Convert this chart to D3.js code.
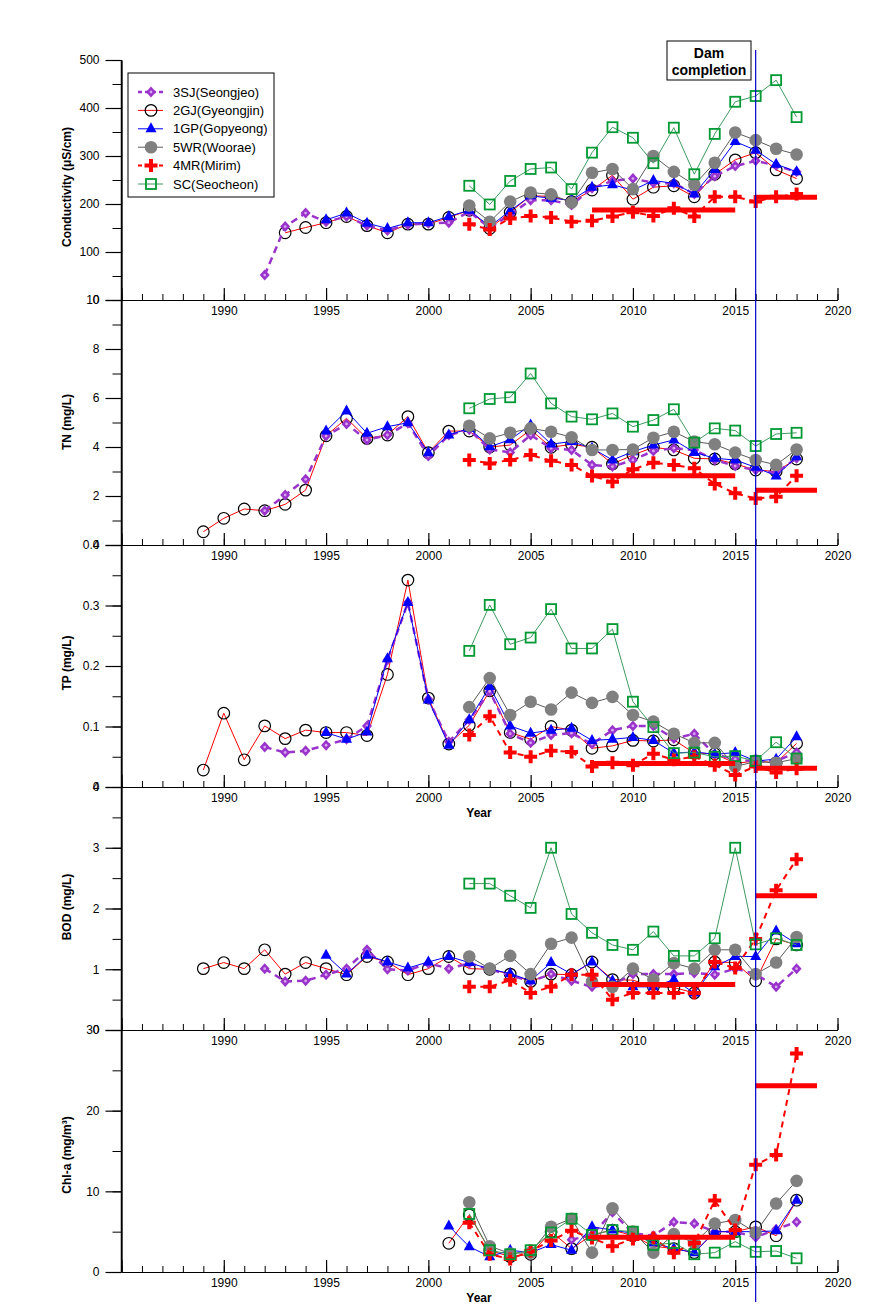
<!DOCTYPE html>
<html><head><meta charset="utf-8">
<script src="https://cdn.jsdelivr.net/npm/d3@7"></script>
<style>body{margin:0;background:#fff}svg{display:block;font-family:"Liberation Sans",Arial,sans-serif}</style>
</head><body><div id="chart"></div>
<script>
// ---------- DATA (years 1989..2018, null = no sample) ----------
const years = d3.range(1989, 2019);
const seriesNames = ["3SJ(Seongjeo)","2GJ(Gyeongjin)","1GP(Gopyeong)","5WR(Woorae)","4MR(Mirim)","SC(Seocheon)"];
const N = null;
// Conductivity (uS/cm)
const cond_3SJ = [N,N,N,52,153,181,163,174,155,145,157,160,161,184,150,178,208,208,198,233,248,253,244,243,221,258,279,290,280,267];
const cond_2GJ = [N,N,N,N,140,151,161,174,155,140,158,158,172,187,149,183,217,216,205,229,260,210,235,238,215,262,292,307,271,253];
const cond_1GP = [N,N,N,N,N,N,167,181,160,149,161,161,174,187,153,186,217,212,208,235,240,229,249,243,221,272,330,312,283,267];
const cond_5WR = [N,N,N,N,N,N,N,N,N,N,N,N,N,197,163,205,224,220,203,265,273,231,300,267,240,286,349,333,315,303];
const cond_4MR = [N,N,N,N,N,N,N,N,N,N,N,N,N,158,147,170,175,172,163,165,174,183,175,191,174,215,215,205,215,221];
const cond_SC  = [N,N,N,N,N,N,N,N,N,N,N,N,N,238,199,248,273,276,231,307,360,338,285,359,262,346,413,425,458,381];
const cond_mean = [187.5, 214];
// TN (mg/L)
const tn_3SJ = [N,N,N,1.40,2.04,2.68,4.45,4.94,4.29,4.49,4.97,3.63,4.49,4.70,3.90,3.78,4.49,3.95,3.88,3.27,3.20,3.47,3.84,3.95,3.88,3.47,3.22,3.06,2.95,3.54];
const tn_2GJ = [0.54,1.09,1.47,1.40,1.66,2.24,4.46,5.17,4.35,4.49,5.24,3.77,4.65,4.65,4.00,4.08,4.70,3.99,4.11,3.99,3.31,3.67,3.99,3.88,3.54,3.51,3.31,3.06,3.00,3.51];
const tn_1GP = [N,N,N,N,N,N,4.65,5.47,4.56,4.83,4.99,3.77,4.49,4.76,4.01,4.30,4.90,4.12,4.22,3.95,3.47,3.81,4.08,4.29,3.78,3.54,3.47,3.17,2.82,3.60];
const tn_5WR = [N,N,N,N,N,N,N,N,N,N,N,N,N,4.87,4.35,4.58,4.76,4.62,4.40,3.88,3.88,3.90,4.38,4.62,4.22,4.11,3.77,3.47,3.27,3.90];
const tn_4MR = [N,N,N,N,N,N,N,N,N,N,N,N,N,3.47,3.33,3.47,3.67,3.44,3.27,2.82,2.58,3.09,3.36,3.27,3.13,2.49,2.11,1.90,1.97,2.83];
const tn_SC  = [N,N,N,N,N,N,N,N,N,N,N,N,N,5.58,5.96,6.03,7.00,5.78,5.24,5.13,5.37,4.83,5.10,5.54,4.18,4.76,4.67,4.04,4.53,4.58];
const tn_mean = [2.83, 2.23];
// TP (mg/L)
const tp_3SJ = [N,N,N,0.066,0.057,0.060,0.069,0.079,0.101,0.210,0.305,0.145,0.075,0.111,0.158,0.088,0.073,0.086,0.089,0.071,0.094,0.101,0.101,0.080,0.088,0.054,0.046,0.042,0.043,0.057];
const tp_2GJ = [0.028,0.122,0.045,0.101,0.080,0.094,0.090,0.090,0.085,0.186,0.342,0.147,0.071,0.102,0.159,0.090,0.079,0.100,0.094,0.064,0.068,0.077,0.076,0.078,0.056,0.055,0.039,0.043,0.040,0.072];
const tp_1GP = [N,N,N,N,N,N,0.090,0.079,0.091,0.212,0.305,0.144,0.069,0.111,0.166,0.101,0.089,0.094,0.097,0.077,0.079,0.082,0.077,0.056,0.058,0.054,0.057,0.043,0.046,0.083];
const tp_5WR = [N,N,N,N,N,N,N,N,N,N,N,N,N,0.132,0.180,0.119,0.141,0.128,0.156,0.139,0.149,0.119,0.108,0.088,0.073,0.073,0.034,0.042,0.040,0.047];
const tp_4MR = [N,N,N,N,N,N,N,N,N,N,N,N,N,0.086,0.117,0.057,0.050,0.060,0.058,0.034,0.040,0.036,0.055,0.045,0.050,0.036,0.020,0.034,0.024,0.030];
const tp_SC  = [N,N,N,N,N,N,N,N,N,N,N,N,N,0.225,0.301,0.236,0.247,0.294,0.229,0.229,0.261,0.141,0.099,0.056,0.057,0.050,0.051,0.043,0.074,0.047];
const tp_mean = [0.039, 0.031];
// BOD (mg/L)
const bod_3SJ = [N,N,N,1.01,0.80,0.81,0.91,1.01,1.32,1.00,0.98,1.10,1.01,1.10,1.00,0.90,0.80,0.92,0.81,0.71,0.75,0.92,0.92,0.92,0.94,0.91,1.01,0.92,0.71,1.01];
const bod_2GJ = [1.01,1.11,1.01,1.32,0.92,1.11,1.01,0.91,1.21,1.12,0.91,1.01,1.21,1.01,1.00,0.92,0.80,0.92,0.91,1.12,0.83,0.82,0.71,0.70,0.61,1.12,1.11,0.81,1.50,1.40];
const bod_1GP = [N,N,N,N,N,N,1.23,0.92,1.23,1.12,1.02,1.12,1.21,1.11,1.00,0.93,0.81,1.11,0.92,1.12,0.81,0.71,0.71,0.83,0.61,1.04,1.21,1.21,1.63,1.42];
const bod_5WR = [N,N,N,N,N,N,N,N,N,N,N,N,N,1.21,1.01,1.22,0.92,1.42,1.52,0.80,0.71,1.01,0.83,1.10,1.01,1.32,1.32,0.92,1.11,1.53];
const bod_4MR = [N,N,N,N,N,N,N,N,N,N,N,N,N,0.71,0.71,0.82,0.61,0.71,0.91,0.91,0.50,0.61,0.61,0.61,0.61,1.12,1.02,1.50,2.30,2.81];
const bod_SC  = [N,N,N,N,N,N,N,N,N,N,N,N,N,2.41,2.41,2.21,2.01,3.00,1.91,1.60,1.40,1.32,1.62,1.22,1.22,1.51,3.00,1.41,1.51,1.40];
const bod_mean = [0.75, 2.21];
// Chl-a (mg/m3)
const chl_3SJ = [N,N,N,N,N,N,N,N,N,N,N,N,N,N,N,N,N,N,4.0,4.6,7.4,4.8,4.5,6.2,6.0,5.0,5.0,4.3,5.3,6.2];
const chl_2GJ = [N,N,N,N,N,N,N,N,N,N,N,N,3.56,7.07,2.7,1.9,2.2,5.0,2.9,4.6,5.2,4.5,3.2,2.9,2.4,5.0,5.0,5.6,4.5,8.9];
const chl_1GP = [N,N,N,N,N,N,N,N,N,N,N,N,5.7,3.14,1.9,2.7,2.4,3.4,2.7,5.6,5.2,4.8,3.6,2.9,2.4,5.0,5.0,5.0,5.1,8.9];
const chl_5WR = [N,N,N,N,N,N,N,N,N,N,N,N,N,8.65,3.2,2.3,2.4,5.6,6.6,2.4,7.9,5.0,2.4,4.7,3.6,6.0,6.45,4.9,8.5,11.3];
const chl_4MR = [N,N,N,N,N,N,N,N,N,N,N,N,N,6.1,2.2,1.6,2.6,3.9,5.1,4.2,3.2,4.1,4.2,2.4,3.6,8.85,5.2,13.3,14.5,27.1];
const chl_SC  = [N,N,N,N,N,N,N,N,N,N,N,N,N,7.2,2.7,2.2,2.7,4.9,6.6,4.6,5.2,5.0,3.35,3.6,2.2,2.4,3.76,2.5,2.6,1.7];
const chl_mean = [4.3, 23.1];
// mean periods (before / after dam)
const meanPeriods = [[2008, 2015], [2016, 2019]];
const damYear = 2016;
// axis info
const yTitles = ["Conductivity (\u03BCS/cm)", "TN (mg/L)", "TP (mg/L)", "BOD (mg/L)", "Chl-a (mg/m\u00B3)"];
const yMax = [500, 10, 0.4, 4, 30];
const yMajor = [100, 2, 0.1, 1, 10];
const xMajorTicks = [1985,1990,1995,2000,2005,2010,2015,2020];

// ---------- LAYOUT ----------
const W = 891, H = 1313;
const panelTops = [60, 300, 545, 787, 1030];
const panelBots = [300, 545, 787, 1030, 1272];
const titleCenters = [187, 422, 663, 907, 1155];
const showYear = [false, false, true, false, true];

const svg = d3.select("#chart").append("svg").attr("width", W).attr("height", H);
svg.append("rect").attr("width", W).attr("height", H).attr("fill", "#fff");

const x = d3.scaleLinear().domain([1985, 2020]).range([121.5, 837.5]);

const styles = [
  {line:"#9933CC", w:2.5, dash:"7,5", marker:"diamond"},
  {line:"#FF0000", w:1, dash:null, marker:"circle"},
  {line:"#0000FF", w:1, dash:null, marker:"triangle"},
  {line:"#5a5a5a", w:1, dash:null, marker:"dot"},
  {line:"#FF0000", w:2, dash:"6,5", marker:"plus"},
  {line:"#3d9a60", w:1, dash:null, marker:"square"}
];

function drawMarker(g, type, cx, cy) {
  const m = g.append("g").attr("transform", `translate(${cx},${cy})`);
  if (type === "diamond") {
    m.append("path").attr("d", "M0,-5.5L5,0L0,5.5L-5,0Z").attr("fill", "#9933CC");
    m.append("circle").attr("r", 1.4).attr("fill", "#d9a6f0");
  } else if (type === "circle") {
    m.append("circle").attr("r", 5.8).attr("fill", "none").attr("stroke", "#000").attr("stroke-width", 1.2);
  } else if (type === "triangle") {
    m.append("path").attr("d", "M0,-6.5L5.5,3.5L-5.5,3.5Z").attr("fill", "#0000FF");
  } else if (type === "dot") {
    m.append("circle").attr("r", 6.3).attr("fill", "#808080");
  } else if (type === "plus") {
    m.append("path").attr("d", "M-2,-6.5H2V-2H6.5V2H2V6.5H-2V2H-6.5V-2H-2Z").attr("fill", "#FF0000");
  } else if (type === "square") {
    m.append("rect").attr("x", -5).attr("y", -5).attr("width", 10).attr("height", 10)
      .attr("fill", "none").attr("stroke", "#009933").attr("stroke-width", 1.8);
  }
}

const panelData = [
  [cond_3SJ, cond_2GJ, cond_1GP, cond_5WR, cond_4MR, cond_SC],
  [tn_3SJ, tn_2GJ, tn_1GP, tn_5WR, tn_4MR, tn_SC],
  [tp_3SJ, tp_2GJ, tp_1GP, tp_5WR, tp_4MR, tp_SC],
  [bod_3SJ, bod_2GJ, bod_1GP, bod_5WR, bod_4MR, bod_SC],
  [chl_3SJ, chl_2GJ, chl_1GP, chl_5WR, chl_4MR, chl_SC]
];
const panelMeans = [cond_mean, tn_mean, tp_mean, bod_mean, chl_mean];
const drawOrder = [1, 0, 2, 3, 4, 5];

panelData.forEach((series, p) => {
  const y = d3.scaleLinear().domain([0, yMax[p]]).range([panelBots[p], panelTops[p]]);
  const g = svg.append("g");
  // y axis minor + major
  const minorVals = d3.range(0, yMax[p] + 1e-9, yMajor[p] / 2);
  g.append("g").attr("transform", "translate(121.5,0)")
    .call(d3.axisLeft(y).tickValues(minorVals).tickSize(9).tickSizeOuter(0).tickFormat(""))
    .call(a => a.select(".domain").remove());
  const majorVals = d3.range(0, yMax[p] + 1e-9, yMajor[p]).map(v => +v.toFixed(3));
  const ya = g.append("g").attr("transform", "translate(121.5,0)")
    .call(d3.axisLeft(y).tickValues(majorVals).tickSize(16).tickSizeOuter(0).tickPadding(6)
      .tickFormat(d => p === 2 ? (d === 0 ? "0" : d3.format(".1f")(d)) : String(d)));
  ya.selectAll("text").attr("font-size", 12).attr("fill", "#000").attr("font-family", "Liberation Sans, Arial");
  ya.selectAll("line,path").attr("stroke", "#000").attr("stroke-width", 1.2);
  // x axis
  const yb = panelBots[p];
  g.append("g").attr("transform", `translate(0,${yb})`)
    .call(d3.axisBottom(x).tickValues(d3.range(1985, 2021)).tickSize(-6).tickSizeOuter(0).tickFormat(""))
    .call(a => a.select(".domain").remove())
    .selectAll("line").attr("stroke", "#000");
  const xa = g.append("g").attr("transform", `translate(0,${yb})`)
    .call(d3.axisBottom(x).tickValues(xMajorTicks).tickSize(-12).tickSizeOuter(0).tickPadding(6)
      .tickFormat(d => d === 1985 ? "" : String(d)));
  xa.selectAll("text").attr("font-size", 12).attr("fill", "#000").attr("font-family", "Liberation Sans, Arial");
  xa.selectAll("line,path").attr("stroke", "#000").attr("stroke-width", 1.2);
  // y title
  g.append("text").attr("transform", `translate(67,${titleCenters[p]}) rotate(-90)`)
    .attr("text-anchor", "middle").attr("dominant-baseline", "central")
    .attr("font-size", 12).attr("font-weight", "bold").text(yTitles[p]);
  if (showYear[p]) {
    g.append("text").attr("x", 479).attr("y", yb + 30).attr("text-anchor", "middle")
      .attr("font-size", 12).attr("font-weight", "bold").text("Year");
  }
  // series
  drawOrder.forEach(s => {
    const st = styles[s];
    const pts = years.map((yr, i) => ({yr, v: series[s][i]})).filter(d => d.v !== null);
    const line = d3.line().x(d => x(d.yr)).y(d => y(d.v));
    g.append("path").attr("d", line(pts)).attr("fill", "none").attr("stroke", st.line)
      .attr("stroke-width", st.w).attr("stroke-dasharray", st.dash);
    pts.forEach(d => drawMarker(g, st.marker, x(d.yr), y(d.v)));
  });
  // mean bars
  meanPeriods.forEach((per, k) => {
    g.append("line").attr("x1", x(per[0])).attr("x2", x(per[1]))
      .attr("y1", y(panelMeans[p][k])).attr("y2", y(panelMeans[p][k]))
      .attr("stroke", "#FF0000").attr("stroke-width", 5);
  });
});

// left axis full line
svg.append("line").attr("x1", 121.5).attr("x2", 121.5).attr("y1", 60).attr("y2", 1272)
  .attr("stroke", "#000").attr("stroke-width", 1.5);

// dam line
svg.append("line").attr("x1", x(damYear)).attr("x2", x(damYear)).attr("y1", 50).attr("y2", 1302)
  .attr("stroke", "#0000CC").attr("stroke-width", 1.2);
const db = svg.append("g");
db.append("rect").attr("x", 667).attr("y", 41).attr("width", 84).attr("height", 39)
  .attr("fill", "#fff").attr("stroke", "#000").attr("stroke-width", 1);
db.append("text").attr("x", 709).attr("y", 58).attr("text-anchor", "middle").attr("font-size", 14)
  .attr("font-weight", "bold").text("Dam");
db.append("text").attr("x", 709).attr("y", 75).attr("text-anchor", "middle").attr("font-size", 14)
  .attr("font-weight", "bold").text("completion");

// legend
const lg = svg.append("g");
lg.append("rect").attr("x", 128).attr("y", 73).attr("width", 146).attr("height", 124)
  .attr("fill", "#fff").attr("stroke", "#000").attr("stroke-width", 1);
seriesNames.forEach((name, i) => {
  const yy = 92 + i * 18.4;
  const st = styles[i];
  lg.append("line").attr("x1", 138).attr("x2", 163).attr("y1", yy).attr("y2", yy)
    .attr("stroke", st.line).attr("stroke-width", st.w).attr("stroke-dasharray", st.dash ? "4,3" : null);
  drawMarker(lg, st.marker, 151, yy);
  lg.append("text").attr("x", 173).attr("y", yy).attr("dominant-baseline", "central")
    .attr("font-size", 13).text(name);
});
</script>
</body></html>
